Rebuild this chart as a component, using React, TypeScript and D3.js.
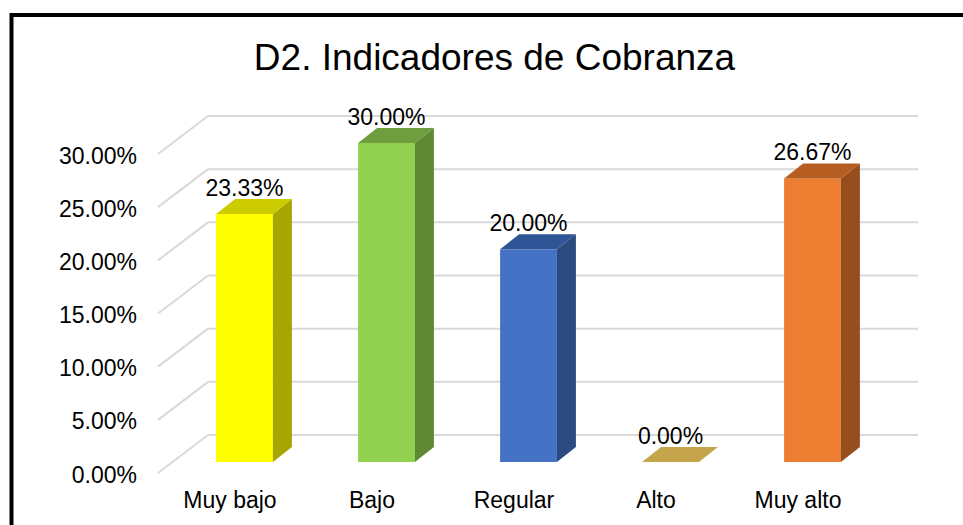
import * as d3 from 'd3';

// Chart values
const categories = ['Muy bajo', 'Bajo', 'Regular', 'Alto', 'Muy alto'];
const values = [0.2333, 0.3, 0.2, 0, 0.2667];
const yTicks = [0, 0.05, 0.1, 0.15, 0.2, 0.25, 0.3];
const frontColors = ['#FFFF00', '#92D050', '#4472C4', '#C4A54C', '#ED7D31'];
const topColors = ['#CCCC00', '#6E9E3D', '#2F5597', '#C4A54C', '#B65D22'];
const sideColors = ['#A6A600', '#5E8932', '#2B4A80', '#A08538', '#974E1E'];

const W = 963;
const H = 525;
const FONT = 'Arial, "Liberation Sans", sans-serif';

export default function App() {
  const x = d3.scaleBand<string>()
    .domain(categories)
    .range([173.5, 883.5])
    .paddingInner(0.6)
    .paddingOuter(0.3);
  const y = d3.scaleLinear().domain([0, 0.3]).range([462, 143]);
  const fmt = d3.format('.2%');

  // 3D depth of bars and of the back wall
  const bdx = 19;
  const bdy = 15;
  const wallDy = 27;
  const wallLeft = 208;
  const wallRight = 918;
  const floorLeft = 158;
  const floorDy = 11;
  const bw = x.bandwidth();

  return (
    <svg
      width={W}
      height={H}
      style={{ position: 'absolute', left: 0, top: 0, display: 'block', background: '#fff' }}
      fontFamily={FONT}
    >
      <rect x={0} y={0} width={W} height={H} fill="#fff" />
      {/* outer frame */}
      <rect x={11.5} y={15} width={W + 20} height={H + 20} fill="#fff" stroke="#000" strokeWidth={4} />

      <text x={494.5} y={70} textAnchor="middle" fontSize={37} fill="#000">
        D2. Indicadores de Cobranza
      </text>

      {/* gridlines: back wall + side diagonal */}
      {yTicks.map((t) => {
        const yb = y(t) - wallDy;
        return (
          <g key={t}>
            <line x1={wallLeft} x2={wallRight} y1={yb} y2={yb} stroke="#D9D9D9" strokeWidth={2} />
            <line x1={floorLeft} y1={y(t) + floorDy} x2={wallLeft} y2={yb} stroke="#D9D9D9" strokeWidth={2} />
            <text x={137} y={y(t) + floorDy + 9.5} textAnchor="end" fontSize={23} fill="#000">
              {fmt(t)}
            </text>
          </g>
        );
      })}

      {/* bars */}
      {categories.map((c, i) => {
        const x0 = x(c) ?? 0;
        const x1 = x0 + bw;
        const yt = y(values[i]);
        const yb = y(0);
        const top = [[x0, yt], [x0 + bdx, yt - bdy], [x1 + bdx, yt - bdy], [x1, yt]];
        const side = [[x1, yt], [x1 + bdx, yt - bdy], [x1 + bdx, yb - bdy], [x1, yb]];
        return (
          <g key={c}>
            {values[i] > 0 && (
              <>
                <rect x={x0} y={yt} width={bw} height={yb - yt} fill={frontColors[i]} />
                <polygon points={side.map((p) => p.join(',')).join(' ')} fill={sideColors[i]} />
              </>
            )}
            <polygon points={top.map((p) => p.join(',')).join(' ')} fill={topColors[i]} />
            <text x={x0 + bw / 2} y={yt - bdy - 3} textAnchor="middle" fontSize={23} fill="#000">
              {fmt(values[i])}
            </text>
          </g>
        );
      })}

      {/* category labels */}
      {categories.map((c) => (
        <text key={c} x={(x(c) ?? 0) + bw / 2 - 14.5} y={508} textAnchor="middle" fontSize={23} fill="#000">
          {c}
        </text>
      ))}
    </svg>
  );
}
